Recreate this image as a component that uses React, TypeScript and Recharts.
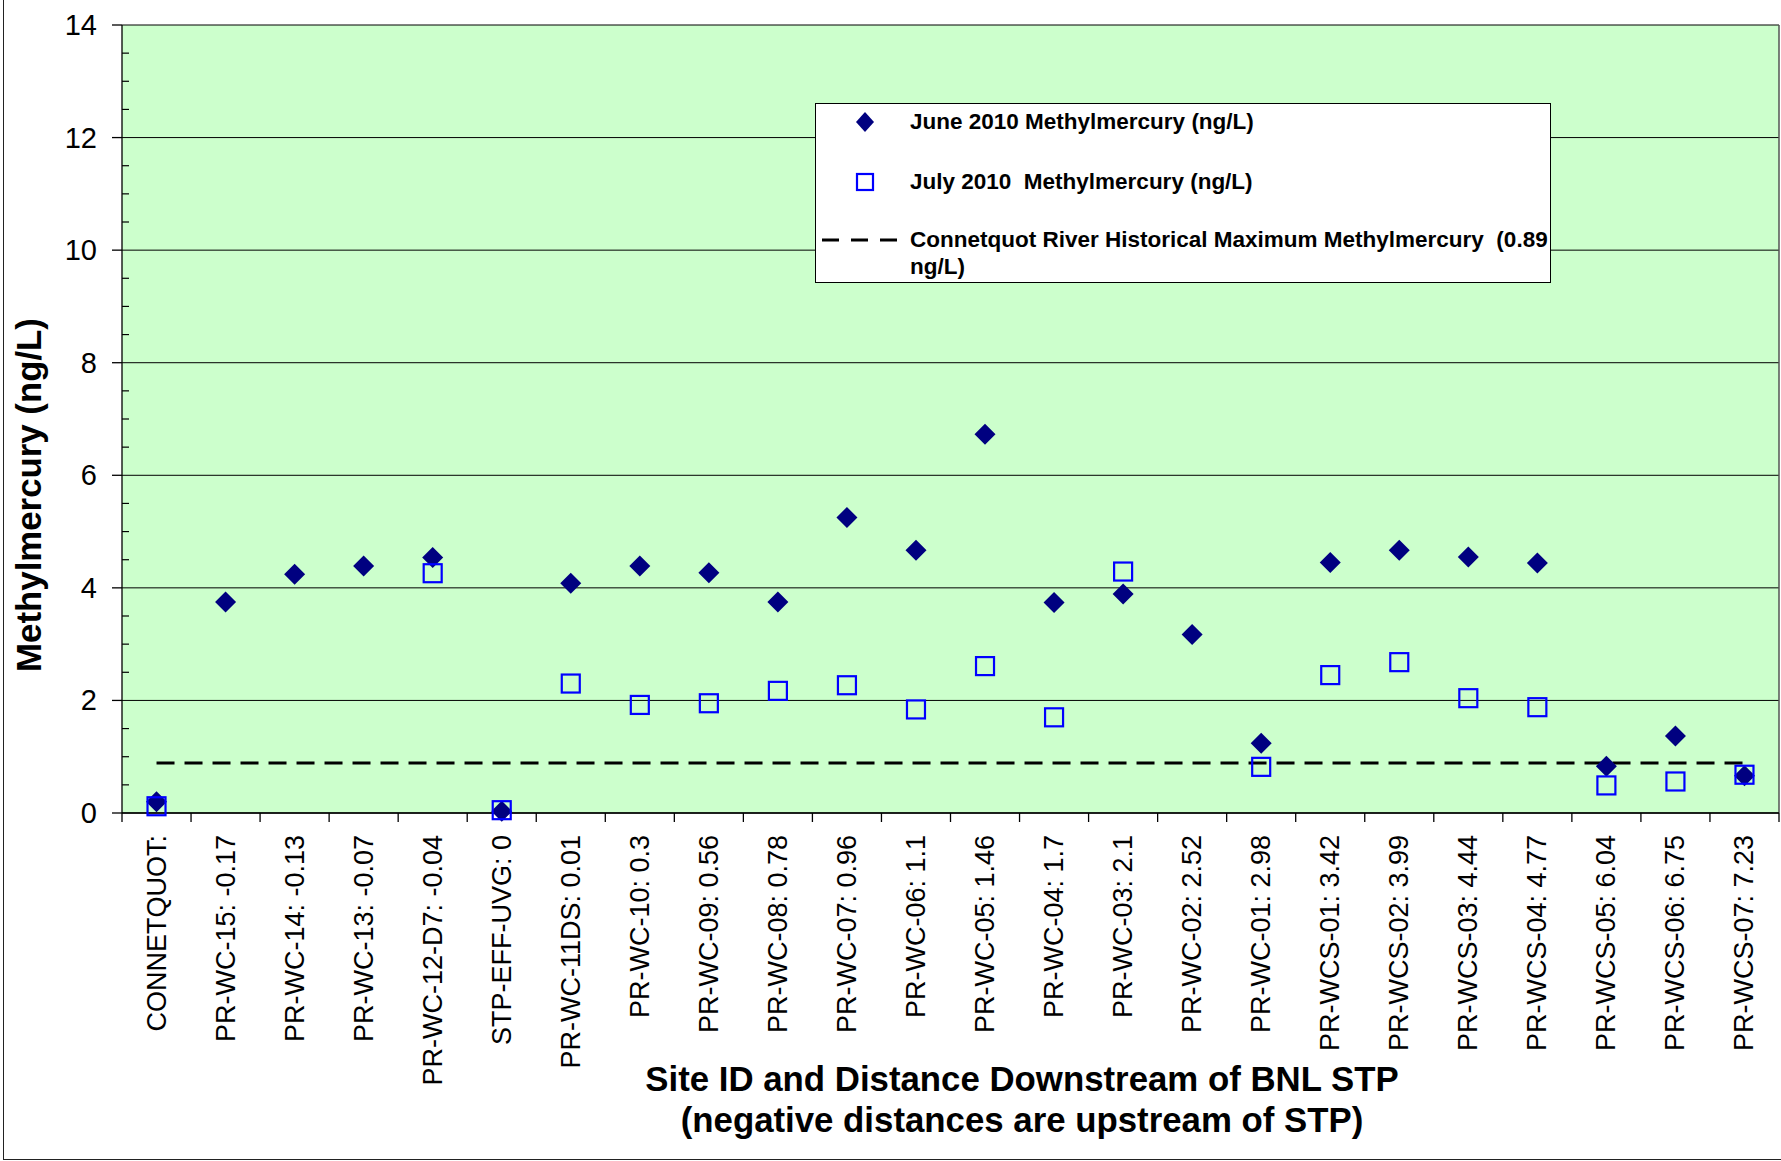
import React from 'react';
import { ComposedChart, Scatter, Line, XAxis, YAxis, CartesianGrid, Legend, ReferenceLine } from 'recharts';

const sites = [
  'CONNETQUOT:',
  'PR-WC-15: -0.17',
  'PR-WC-14: -0.13',
  'PR-WC-13: -0.07',
  'PR-WC-12-D7: -0.04',
  'STP-EFF-UVG: 0',
  'PR-WC-11DS: 0.01',
  'PR-WC-10: 0.3',
  'PR-WC-09: 0.56',
  'PR-WC-08: 0.78',
  'PR-WC-07: 0.96',
  'PR-WC-06: 1.1',
  'PR-WC-05: 1.46',
  'PR-WC-04: 1.7',
  'PR-WC-03: 2.1',
  'PR-WC-02: 2.52',
  'PR-WC-01: 2.98',
  'PR-WCS-01: 3.42',
  'PR-WCS-02: 3.99',
  'PR-WCS-03: 4.44',
  'PR-WCS-04: 4.77',
  'PR-WCS-05: 6.04',
  'PR-WCS-06: 6.75',
  'PR-WCS-07: 7.23',
];

// June 2010 methylmercury (ng/L)
const juneValues: (number | null)[] = [
  0.2, 3.75, 4.24, 4.39, 4.54, 0.03, 4.08, 4.39, 4.27, 3.75, 5.25, 4.67,
  6.73, 3.74, 3.89, 3.17, 1.24, 4.45, 4.67, 4.55, 4.44, 0.83, 1.37, 0.66,
];

// July 2010 methylmercury (ng/L), null = not sampled
const julyValues: (number | null)[] = [
  0.12, null, null, null, 4.26, 0.05, 2.3, 1.92, 1.95, 2.17, 2.27, 1.84,
  2.61, 1.7, 4.29, null, 0.82, 2.45, 2.68, 2.04, 1.88, 0.49, 0.56, 0.68,
];

const historicalMax = 0.89;
const yMajorTicks = [0, 2, 4, 6, 8, 10, 12, 14];

const juneLabel = 'June 2010 Methylmercury (ng/L)';
const julyLabel = 'July 2010  Methylmercury (ng/L)';
const histLabel = ['Connetquot River Historical Maximum Methylmercury  (0.89', 'ng/L)'];

const FONT = '"Liberation Sans", Arial, Helvetica, sans-serif';

const toPoints = (vals: (number | null)[]) =>
  vals
    .map((v, i) => ({ x: i + 0.5, y: v, site: sites[i] }))
    .filter((p) => p.y !== null);

const junePoints = toPoints(juneValues);
const julyPoints = toPoints(julyValues);
const histPoints = sites.map((site, i) => ({ x: i + 0.5, y: historicalMax, site }));

// category boundaries (integers) get tick marks, centres (halves) get labels
const xTicks: number[] = [];
for (let i = 0; i <= sites.length; i++) {
  xTicks.push(i);
  if (i < sites.length) xTicks.push(i + 0.5);
}

const yTicks: number[] = [];
for (let v = 0; v <= 14; v += 0.5) yTicks.push(v);

const XTick = ({ x, y, payload }: any) => {
  const v = payload.value;
  if (Number.isInteger(v)) {
    return <line x1={x} x2={x} y1={y} y2={y + 9} stroke="#000" strokeWidth={1.3} />;
  }
  const ty = y + 22;
  return (
    <text
      x={x}
      y={ty}
      transform={`rotate(-90 ${x} ${ty})`}
      textAnchor="end"
      dominantBaseline="central"
      fontSize={27}
      fontFamily={FONT}
      fill="#000"
    >
      {sites[Math.floor(v)]}
    </text>
  );
};

const YTick = ({ x, y, payload }: any) => {
  const v = payload.value;
  if (v % 2 === 0) {
    return (
      <g>
        <line x1={x - 10} x2={x} y1={y} y2={y} stroke="#000" strokeWidth={1.3} />
        <text x={x - 25} y={y} textAnchor="end" dominantBaseline="central" fontSize={29} fontFamily={FONT} fill="#000">
          {v}
        </text>
      </g>
    );
  }
  return <line x1={x} x2={x + 7} y1={y} y2={y} stroke="#000" strokeWidth={1.2} />;
};

const Diamond = ({ cx, cy }: any) => (
  <polygon points={`${cx},${cy - 10.5} ${cx + 10.5},${cy} ${cx},${cy + 10.5} ${cx - 10.5},${cy}`} fill="#000080" />
);

const OpenSquare = ({ cx, cy }: any) => (
  <rect x={cx - 9} y={cy - 9} width={18} height={18} fill="none" stroke="#0000FF" strokeWidth={2.2} />
);

const LegendBox = () => {
  const text: React.CSSProperties = {
    position: 'absolute',
    left: 94,
    fontFamily: FONT,
    fontWeight: 'bold',
    fontSize: 22.5,
    lineHeight: '27px',
    whiteSpace: 'pre',
    color: '#000',
  };
  return (
    <div
      style={{
        position: 'relative',
        width: 736,
        height: 180,
        boxSizing: 'border-box',
        border: '1px solid #000',
        background: '#fff',
      }}
    >
      <svg width={736} height={180} style={{ position: 'absolute', left: -1, top: -1 }}>
        <polygon points="50,9 59,19 50,29 41,19" fill="#000080" />
        <rect x={42} y={71} width={16} height={16} fill="none" stroke="#0000FF" strokeWidth={2.2} />
        <line x1={7} x2={82} y1={137} y2={137} stroke="#000" strokeWidth={3} strokeDasharray="17 12" />
      </svg>
      <div style={{ ...text, top: 4 }}>{juneLabel}</div>
      <div style={{ ...text, top: 64 }}>{julyLabel}</div>
      <div style={{ ...text, top: 122 }}>
        {histLabel[0]}
        <br />
        {histLabel[1]}
      </div>
    </div>
  );
};

const YTitle = () => (
  <text
    x={28}
    y={495}
    transform="rotate(-90 28 495)"
    textAnchor="middle"
    dominantBaseline="central"
    fontSize={34.8}
    fontWeight="bold"
    fontFamily={FONT}
    fill="#000"
  >
    Methylmercury (ng/L)
  </text>
);

const XTitle = () => (
  <text textAnchor="middle" fontSize={34.8} fontWeight="bold" fontFamily={FONT} fill="#000">
    <tspan x={1022} y={1091}>Site ID and Distance Downstream of BNL STP</tspan>
    <tspan x={1022} y={1132}>(negative distances are upstream of STP)</tspan>
  </text>
);

export default function App() {
  return (
    <div style={{ position: 'relative', width: 1781, height: 1161, overflow: 'hidden', background: '#fff' }}>
      <style>{'body{margin:0}'}</style>
      <div
        style={{
          position: 'absolute',
          left: 2.5,
          top: -10,
          width: 1800,
          height: 1169.5,
          boxSizing: 'border-box',
          border: '1.5px solid #222',
        }}
      />
      <div style={{ position: 'absolute', left: 0, top: 0 }}>
        <ComposedChart width={1781} height={1161} margin={{ top: 25, right: 2, bottom: 0, left: 0 }}>
          <CartesianGrid
            vertical={false}
            horizontalValues={yMajorTicks}
            stroke="#000"
            strokeWidth={1}
            fill="#CCFFCC"
            fillOpacity={1}
          />
          <XAxis
            type="number"
            dataKey="x"
            domain={[0, sites.length]}
            ticks={xTicks}
            interval={0}
            height={348}
            tickSize={0}
            tickMargin={0}
            tickLine={false}
            axisLine={{ stroke: '#000', strokeWidth: 1.3 }}
            tick={<XTick />}
            label={<XTitle />}
          />
          <YAxis
            type="number"
            domain={[0, 14]}
            ticks={yTicks}
            interval={0}
            width={122}
            tickSize={0}
            tickMargin={0}
            tickLine={false}
            axisLine={{ stroke: '#000', strokeWidth: 1.3 }}
            tick={<YTick />}
            label={<YTitle />}
          />
          <ReferenceLine x={sites.length} stroke="#555" strokeWidth={1.5} />
          <Line
            data={histPoints}
            dataKey="y"
            name={histLabel.join(' ')}
            stroke="#000"
            strokeWidth={3}
            strokeDasharray="18 10"
            dot={false}
            activeDot={false}
            isAnimationActive={false}
          />
          <Scatter data={junePoints} dataKey="y" name={juneLabel} shape={<Diamond />} isAnimationActive={false} />
          <Scatter data={julyPoints} dataKey="y" name={julyLabel} shape={<OpenSquare />} isAnimationActive={false} />
          <Legend
            layout="horizontal"
            verticalAlign="middle"
            align="center"
            content={() => <LegendBox />}
            wrapperStyle={{ left: 815, top: 103, width: 736, height: 180 }}
          />
        </ComposedChart>
      </div>
    </div>
  );
}
